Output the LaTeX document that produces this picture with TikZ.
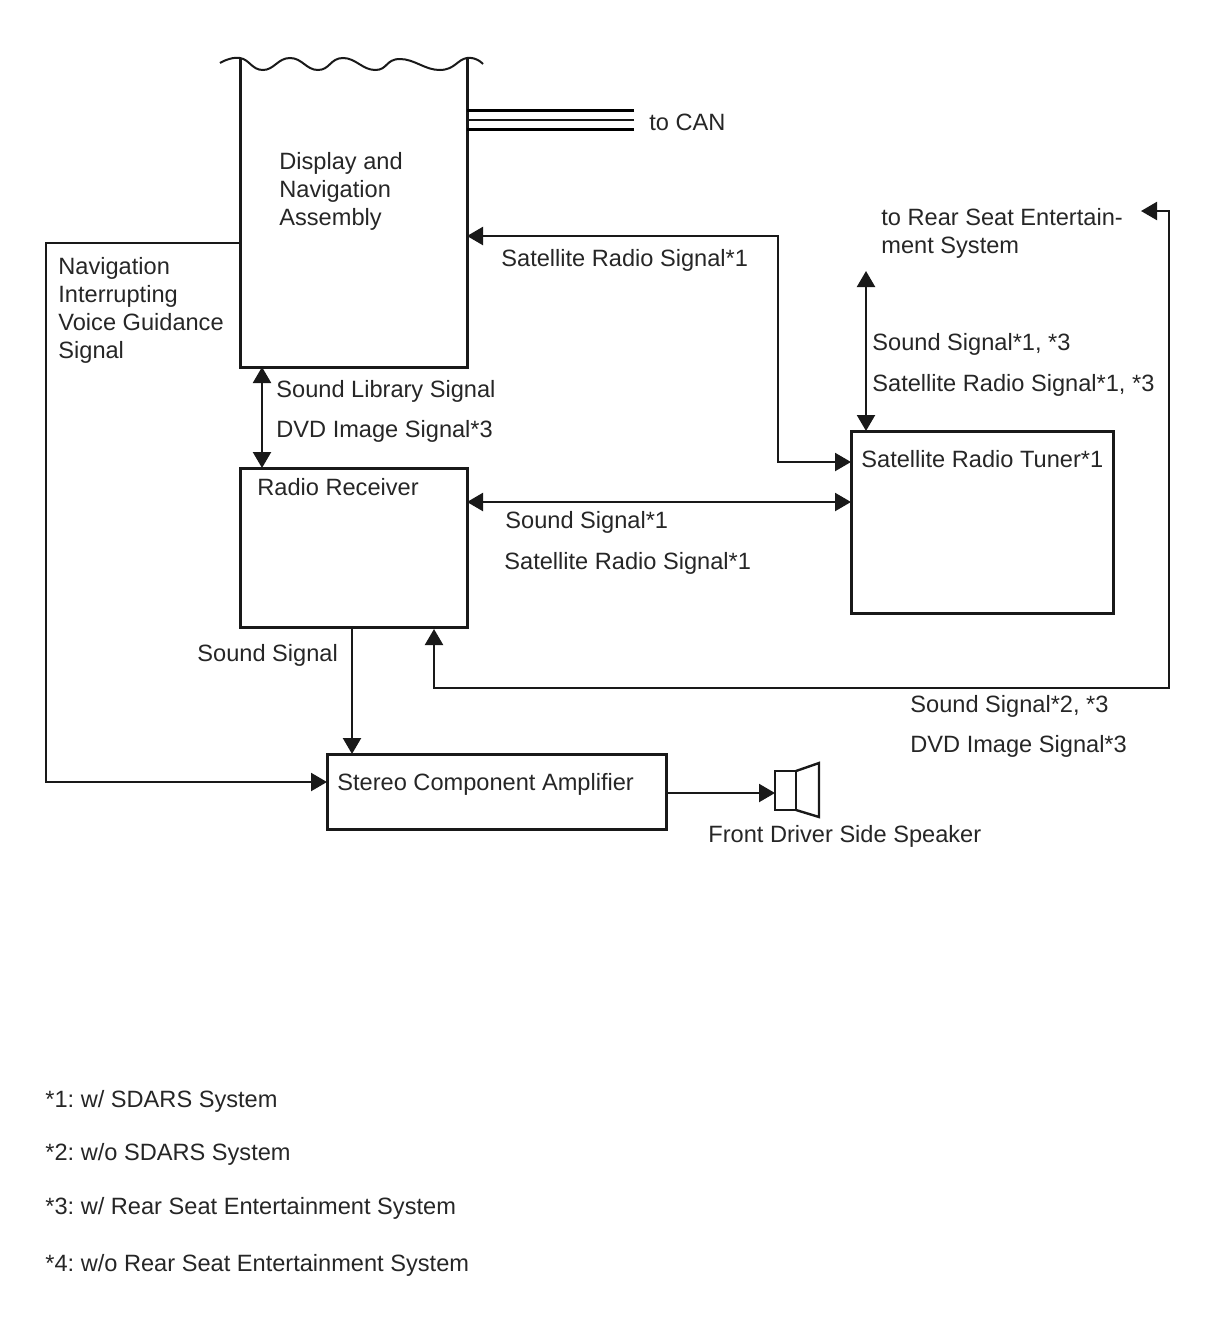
\documentclass[tikz,border=0pt]{standalone}
\usepackage{fontspec}
\setmainfont{Liberation Sans}
\usetikzlibrary{arrows.meta,positioning,calc}
\tikzset{
    %Define standard arrow tip
    >={Triangle[length=8pt,width=9pt]},
    %Define style for boxes
    block/.style={
           rectangle,
           draw=black!90,
           line width=1.5pt,
           outer sep=0pt,
           inner sep=0pt},
    %Define style for texts
    lbl/.style={
           anchor=base west,
           inner sep=0pt,
           align=left,
           text=black!85,
           font=\fontsize{11.8}{14}\selectfont\frenchspacing},
    % Define arrow style
    sig/.style={
           draw=black!90,
           line width=1.1pt},
    bus/.style={
           draw=black,
           line width=1.6pt}
}

\begin{document}
\begin{tikzpicture}[x=.5pt,y=-.5pt]
\useasboundingbox (0,0) rectangle (1210,1328);

 %nodes
\node[block, draw=none, minimum width=113.5pt, minimum height=154.5pt](display) at (353.5,212.5){};
\node[block, minimum width=113.5pt, minimum height=79.5pt](radio) at (353.5,547.5){};
\node[block, minimum width=131pt, minimum height=91pt](tuner) at (982,522){};
\node[block, minimum width=169.5pt, minimum height=37.5pt](amp) at (496.5,791.5){};
\node[block, line width=1.2pt, minimum width=10.5pt, minimum height=19.5pt](spk) at (785.5,790.5){};

 %free ends
\coordinate (canA) at (634,110.5);
\coordinate (canB) at (634,120);
\coordinate (canC) at (634,129.5);
\coordinate (rearTop) at (866,271);
\coordinate (rearEnd) at (1141,211);

 %display outline with its torn top
\draw[block] (display.north west) -- (display.south west) -- (display.south east) -- (display.north east);
\draw[sig, line width=1pt] plot[smooth, tension=.8] coordinates {(220,63) (240,58) (263,70) (290,58) (318,70) (343,58) (375,70) (400,59) (440,70) (467,58) (483,64)};

 %speaker cone
\draw[block, line width=1.2pt] (spk.north east) -- ++(23,-8) -- ++(0,54) -- (spk.south east);

 %connectors
\draw[bus] (canA) -- (canA -| display.east);
\draw[sig] (canB) -- (canB -| display.east);
\draw[bus] (canC) -- (canC -| display.east);
\draw[sig,<->] ([yshift=-11.75pt]display.east) -- ++(311,0) |- ([yshift=30pt]tuner.west);
\draw[sig,->] ([yshift=-15.25pt]display.west) -- ++(-194,0) |- ([yshift=4.75pt]amp.west);
\draw[sig,<->] ([xshift=-45.75pt]display.south) -- ([xshift=-45.75pt]radio.north);
\draw[sig,<->] ([yshift=22.75pt]radio.east) -- ([yshift=10pt]tuner.west);
\draw[sig,<->] (rearTop) -- (rearTop |- tuner.north);
\draw[sig,->] (radio.south -| amp.north) ++(-144.5,0) -- ([xshift=-72.25pt]amp.north);
\draw[sig,->] ([yshift=-.75pt]amp.east) -- ([yshift=-.75pt]amp.east -| spk.west);
\draw[sig,<->] ([xshift=40.25pt,yshift=-1pt]radio.south) -- ++(0,59) -| ++(735,-477) -- (rearEnd);

 %labels
\node[lbl] (displaytxt) at (279,225) {Display and\\Navigation\\Assembly};
\node[lbl] (cantxt) at (649,130) {to CAN};
\node[lbl] (reartxt) at (881,253) {to Rear Seat Entertain-\\ment System};
\node[lbl] (voicetxt) at (58,358) {Navigation\\Interrupting\\Voice Guidance\\Signal};
\node[lbl] (sattxt) at (501,266) {Satellite Radio Signal*1};
\node[lbl] (librarytxt) at (276,397) {Sound Library Signal};
\node[lbl] (dvdtxt) at (276,437) {DVD Image Signal*3};
\node[lbl] (tunersndtxt) at (872,350) {Sound Signal*1, *3};
\node[lbl] (tunersattxt) at (872,391) {Satellite Radio Signal*1, *3};
\node[lbl] (tunertxt) at (861,467) {Satellite Radio Tuner*1};
\node[lbl] (radiotxt) at (257,495) {Radio Receiver};
\node[lbl] (linksndtxt) at (505,528) {Sound Signal*1};
\node[lbl] (linksattxt) at (504,569) {Satellite Radio Signal*1};
\node[lbl] (sndtxt) at (197,661) {Sound Signal};
\node[lbl] (backsndtxt) at (910,712) {Sound Signal*2, *3};
\node[lbl] (backdvdtxt) at (910,752) {DVD Image Signal*3};
\node[lbl] (amptxt) at (337,790) {Stereo Component Amplifier};
\node[lbl] (spktxt) at (708,842) {Front Driver Side Speaker};
\node[lbl] (noteA) at (45,1107) {*1: w/ SDARS System};
\node[lbl] (noteB) at (45,1160) {*2: w/o SDARS System};
\node[lbl] (noteC) at (45,1214) {*3: w/ Rear Seat Entertainment System};
\node[lbl] (noteD) at (45,1271) {*4: w/o Rear Seat Entertainment System};
\end{tikzpicture}
\end{document}
